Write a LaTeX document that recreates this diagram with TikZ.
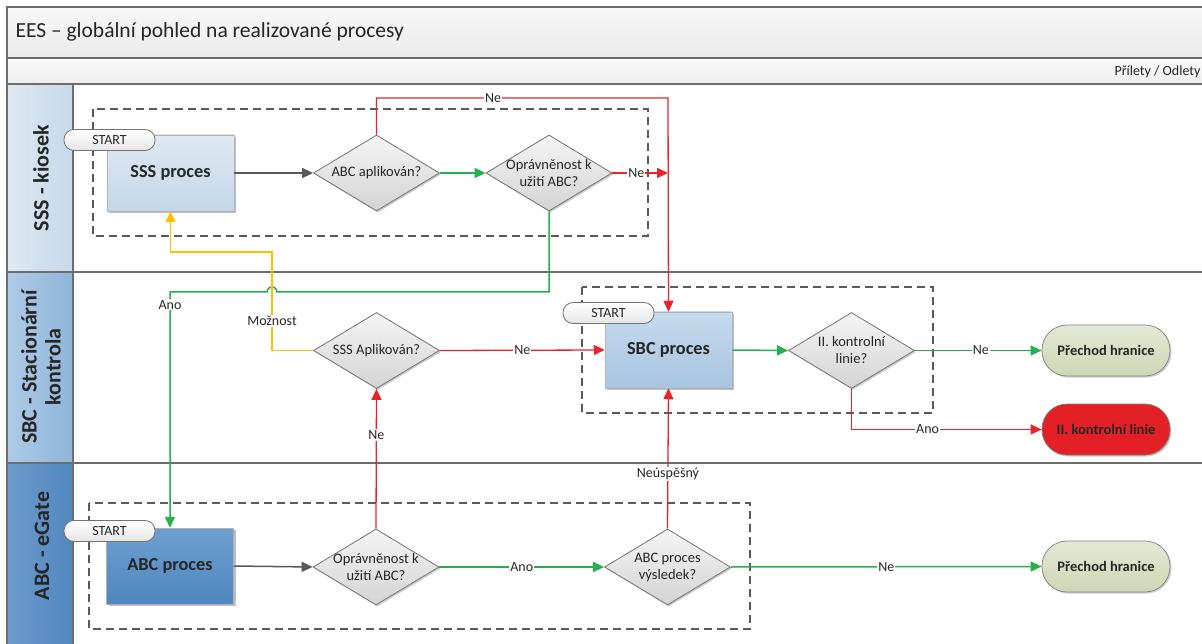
\documentclass[tikz,border=0pt]{standalone}
\usepackage{fontspec}
\setmainfont{Carlito}
\usetikzlibrary{arrows.meta,shapes.geometric,shadows}
\definecolor{ered}{HTML}{E8232A}
\definecolor{egreen}{HTML}{22B14C}
\definecolor{eyellow}{HTML}{FFC000}
\definecolor{egray}{HTML}{595959}
\definecolor{frame}{HTML}{6D6D6D}
\definecolor{dashc}{HTML}{5A5A5A}
\definecolor{laneAa}{HTML}{DFE9F3}
\definecolor{laneAb}{HTML}{C6D8EA}
\definecolor{laneBa}{HTML}{AECBE6}
\definecolor{laneBb}{HTML}{8FB5DA}
\definecolor{laneCa}{HTML}{6B9BCB}
\definecolor{laneCb}{HTML}{5287C0}
\definecolor{sssa}{HTML}{DFE9F3}
\definecolor{sssb}{HTML}{C3D7EA}
\definecolor{sbca}{HTML}{C6DBEE}
\definecolor{sbcb}{HTML}{A8C4E0}
\definecolor{abca}{HTML}{6E9FCF}
\definecolor{abcb}{HTML}{4F86BF}
\definecolor{pha}{HTML}{E4E9D5}
\definecolor{phb}{HTML}{CDD6B4}
\definecolor{kred}{HTML}{E32026}
\begin{document}
\begin{tikzpicture}[x=1pt,y=-1pt,
  framel/.style={draw=frame,line width=1.4pt},
  lanetext/.style={font=\fontsize{22}{24}\selectfont\bfseries,text=black!85,align=center,rotate=90},
  dashbox/.style={draw=dashc,line width=1.1pt,dash pattern=on 8pt off 5pt},
  procbox/.style={draw=black!30,line width=0.5pt,minimum width=127pt,minimum height=76pt,inner sep=0pt,
    font=\fontsize{18.3}{21}\selectfont\bfseries,text=black!85,
    drop shadow={shadow xshift=2pt,shadow yshift=-2pt,opacity=0.25,fill=black}},
  decision/.style={diamond,draw=black!55,line width=0.8pt,minimum width=126pt,minimum height=76pt,inner sep=0pt,
    top color=black!4,bottom color=black!17,
    drop shadow={shadow xshift=1.5pt,shadow yshift=-1.5pt,opacity=0.2,fill=black}},
  dtext/.style={font=\fontsize{14.5}{17}\selectfont,text=black!85,align=center},
  startpill/.style={draw=black!55,line width=0.8pt,rounded corners=10pt,minimum width=91pt,minimum height=21pt,
    inner sep=0pt,top color=white,bottom color=black!10,font=\fontsize{14}{16}\selectfont,text=black!85},
  term/.style={draw=black!50,line width=0.7pt,rounded corners=25pt,minimum width=128pt,minimum height=51pt,
    inner sep=0pt,font=\fontsize{14.5}{17}\selectfont\bfseries,text=black!85,
    drop shadow={shadow xshift=1.5pt,shadow yshift=-1.5pt,opacity=0.2,fill=black}},
  tip/.style={-{Triangle[length=11pt,width=10pt]}},
  grn/.style={draw=egreen,line width=1.5pt,tip},
  rd/.style={draw=ered,line width=1.3pt,tip},
  yel/.style={draw=eyellow,line width=1.5pt,tip},
  gry/.style={draw=egray,line width=1.5pt,tip},
  lbl/.style={fill=white,inner sep=1pt,font=\fontsize{14}{16}\selectfont,text=black!85}
]
\useasboundingbox (0,0) rectangle (1202,644);
\fill[white] (0,0) rectangle (1202,644);

% header bands
\draw[framel,top color=black!3,bottom color=black!8] (7,7) rectangle (1210,58);
\draw[framel,top color=black!2,bottom color=black!7] (7,58) rectangle (1210,84);
\node[anchor=west,font=\fontsize{21.5}{25}\selectfont,text=black!85] (title) at (12,32) {EES – globální pohled na realizované procesy};
\node[anchor=east,font=\fontsize{14}{16}\selectfont,text=black!85] (pl) at (1204,72) {Přílety / Odlety};

% lanes
\draw[framel] (73,84) rectangle (1210,272);
\draw[framel] (73,272) rectangle (1210,463);
\draw[framel,left color=laneAa,right color=laneAb] (7,84) rectangle (73,272);
\draw[framel,left color=laneBa,right color=laneBb] (7,272) rectangle (73,463);
\fill[left color=laneCa,right color=laneCb] (7,463) rectangle (73,650);
\draw[framel] (7,650) -- (7,463) -- (73,463) -- (73,650);
\node[lanetext] (lane1) at (41,178) {SSS - kiosek};
\node[lanetext] (lane2) at (41,367) {SBC - Stacionární\\kontrola};
\node[lanetext] (lane3) at (42,546) {ABC - eGate};

% group boxes
\draw[dashbox] (93,109) rectangle (648,236);
\draw[dashbox] (582,287) rectangle (933,413);
\draw[dashbox] (89,503) rectangle (750,629);

% process boxes
\node[procbox,top color=sssa,bottom color=sssb] (sss) at (170.5,173) {SSS proces};
\node[procbox,top color=sbca,bottom color=sbcb] (sbc) at (668.5,350) {SBC proces};
\node[procbox,top color=abca,bottom color=abcb] (abc) at (170,566) {ABC proces};

% start pills
\node[startpill] (st1) at (109.5,140) {START};
\node[startpill] (st2) at (608.5,313) {START};
\node[startpill] (st3) at (109.5,531) {START};

% decisions
\node[decision,label={[dtext]center:ABC aplikován?}] (abcapl) at (376.5,173) {};
\node[decision,label={[dtext]center:Oprávněnost k\\užití ABC?}] (opr1) at (549,173) {};
\node[decision,label={[dtext]center:SSS Aplikován?}] (sssapl) at (376.5,350.5) {};
\node[decision,label={[dtext]center:II. kontrolní\\linie?}] (kl) at (851.5,350.5) {};
\node[decision,label={[dtext]center:Oprávněnost k\\užití ABC?}] (opr2) at (376,567) {};
\node[decision,label={[dtext]center:ABC proces\\výsledek?}] (abcres) at (667.5,567) {};

% terminals
\node[term,top color=pha,bottom color=phb] (ph1) at (1106,350.5) {Přechod hranice};
\node[term,fill=kred] (klt) at (1106,429.5) {II. kontrolní linie};
\node[term,top color=pha,bottom color=phb] (ph2) at (1106,566.5) {Přechod hranice};

% coordinates
\coordinate (rtop) at (668,98);
\coordinate (rjoin) at (668,173);
\coordinate (hopR) at (277,292);
\coordinate (hopL) at (267,292);
\coordinate (ylw1) at (272,350.5);
\coordinate (ylw2) at (272,252);
\coordinate (ylw3) at (170.5,252);

% connectors lane 1
\draw[gry] (sss.east) -- (abcapl.west);
\draw[grn] (abcapl.east) -- (opr1.west);
\draw[rd] (opr1.east) -- node[lbl,pos=0.43]{Ne} (rjoin);
\draw[rd] (abcapl.north) |- node[lbl,pos=0.7]{Ne} (rtop) -- (sbc.north);
\draw[grn] (opr1.south) |- (hopR) .. controls (276,285) and (268,285) .. (hopL) -| node[lbl,pos=0.527]{Ano} (abc.north);
\draw[yel] (sssapl.west) -- (ylw1) -- node[lbl,pos=0.3]{Možnost} (ylw2) -- (ylw3) -- (sss.south);

% lane 2
\draw[rd] (sssapl.east) -- node[lbl]{Ne} (sbc.west);
\draw[grn] (sbc.east) -- (kl.west);
\draw[grn] (kl.east) -- node[lbl,pos=0.52]{Ne} (ph1.west);
\draw[rd] (kl.south) |- node[lbl,pos=0.7]{Ano} (klt.west);

% lane 3
\draw[rd] (opr2.north) -- node[lbl,pos=0.67]{Ne} (sssapl.south);
\draw[rd] (abcres.north) -- node[lbl,pos=0.39]{Neúspěšný} (sbc.south);
\draw[gry] (abc.east) -- (opr2.west);
\draw[grn] (opr2.east) -- node[lbl]{Ano} (abcres.west);
\draw[grn] (abcres.east) -- node[lbl]{Ne} (ph2.west);
\end{tikzpicture}
\end{document}
